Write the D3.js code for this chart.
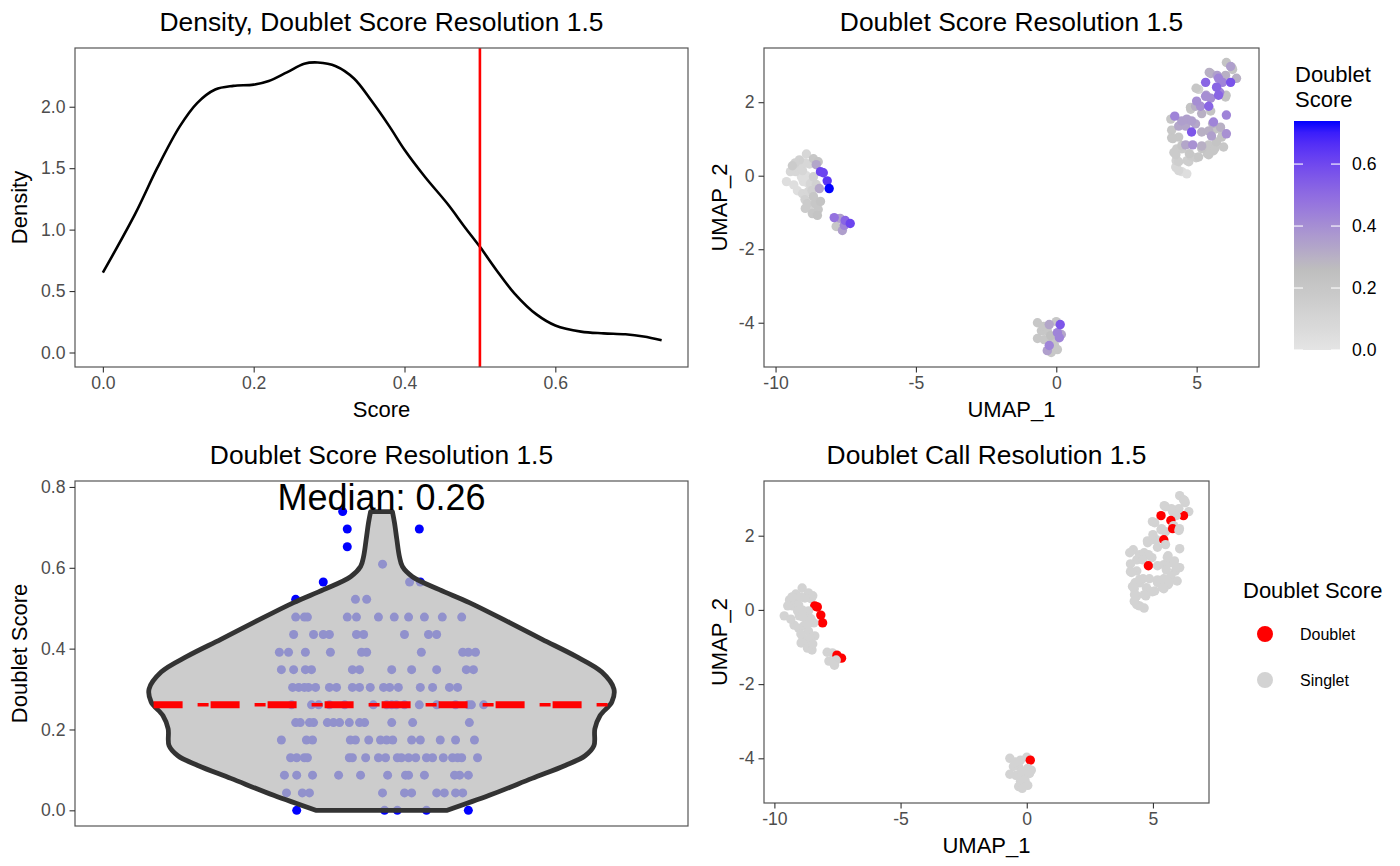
<!DOCTYPE html>
<html>
<head>
<meta charset="utf-8">
<script src="https://cdn.jsdelivr.net/npm/d3@7"></script>
<style>
  html, body { margin: 0; padding: 0; background: #fff; }
  svg { display: block; }
</style>
</head>
<body>
<svg id="chart" width="1400" height="866"></svg>
<script>
// Doublet-score QC panel: density, two UMAPs (score / call) and a violin.

// ---- data -----------------------------------------------------------------
// density curve
const densityScore = [0.000, 0.043, 0.072, 0.102, 0.125, 0.149, 0.173, 0.200, 0.220, 0.244, 0.267, 0.285,
  0.309, 0.333, 0.356, 0.380, 0.400, 0.427, 0.457, 0.480, 0.500, 0.522, 0.546, 0.575, 0.600, 0.634,
  0.664, 0.693, 0.717, 0.741];
const densityValue = [0.65, 1.13, 1.50, 1.84, 2.03, 2.14, 2.17, 2.18, 2.21, 2.28, 2.35, 2.36,
  2.33, 2.23, 2.05, 1.84, 1.65, 1.43, 1.21, 1.02, 0.86, 0.67, 0.48, 0.31, 0.22, 0.17,
  0.156, 0.148, 0.13, 0.10];
const cutoff = 0.5;
const medianScore = 0.261;
const maxScore = 0.739;

// violin: score levels and horizontal jitter of every cell on that level
const scoreLevels = [0.000, 0.043, 0.087, 0.130, 0.174, 0.217, 0.261, 0.304, 0.348, 0.391, 0.435,
  0.478, 0.522, 0.565, 0.609, 0.652, 0.696, 0.739];
const jitterByLevel = [
  [-0.166, 0.006, 0.031, 0.088, 0.170],
  [-0.186, -0.155, -0.141, 0.002, 0.045, 0.059, 0.108, 0.123, 0.145, 0.159],
  [-0.190, -0.166, -0.135, -0.084, -0.041, 0.012, 0.047, 0.053, 0.084, 0.143, 0.153, 0.170],
  [-0.178, -0.166, -0.151, -0.145, -0.063, -0.057, -0.031, -0.006, 0.008, 0.031, 0.039, 0.053, 0.067, 0.088, 0.100, 0.121, 0.139, 0.149, 0.157, 0.188],
  [-0.196, -0.147, -0.135, -0.061, -0.051, -0.025, -0.002, 0.010, 0.022, 0.059, 0.076, 0.115, 0.145, 0.182],
  [-0.168, -0.159, -0.141, -0.133, -0.106, -0.094, -0.082, -0.063, -0.043, -0.033, 0.020, 0.061, 0.172],
  [-0.176, -0.137, -0.123, -0.102, -0.072, -0.016, 0.010, 0.020, 0.029, 0.045, 0.074, 0.108, 0.145, 0.170, 0.176, 0.200],
  [-0.174, -0.162, -0.151, -0.143, -0.129, -0.102, -0.088, -0.057, -0.043, -0.022, 0.004, 0.016, 0.033, 0.076, 0.100, 0.133, 0.149],
  [-0.196, -0.172, -0.149, -0.137, -0.057, -0.043, 0.020, 0.059, 0.108, 0.166, 0.180],
  [-0.200, -0.182, -0.149, -0.100, -0.039, -0.029, 0.078, 0.159, 0.170, 0.184],
  [-0.172, -0.133, -0.114, -0.102, -0.049, -0.035, 0.045, 0.092, 0.108],
  [-0.168, -0.151, -0.145, -0.067, -0.049, -0.006, 0.025, 0.053, 0.084, 0.119, 0.157],
  [-0.168, -0.051, -0.029],
  [-0.114, 0.055, 0.076],
  [0.002],
  [-0.067],
  [-0.067, 0.074],
  [-0.076],
];
// violin outline: relative half-width at each score
const violinScore = [0.000, 0.037, 0.079, 0.111, 0.135, 0.160, 0.202, 0.234, 0.268, 0.300, 0.342,
  0.382, 0.423, 0.465, 0.514, 0.546, 0.578, 0.603, 0.628, 0.670, 0.711, 0.739];
const violinWidth = [0.283, 0.464, 0.648, 0.790, 0.876, 0.914, 0.918, 0.940, 0.991, 1.000, 0.948,
  0.833, 0.691, 0.549, 0.378, 0.249, 0.133, 0.090, 0.077, 0.066, 0.056, 0.047];

// UMAP embedding (left cluster, bottom cluster, right cluster)
const umap1 = [
  -8.90, -9.15, -8.65, -8.48, -9.40, -9.18, -8.55, -8.40, -8.30, -8.16, -8.09, -9.61, -9.29, -9.04,
  -9.01, -8.76, -8.65, -8.44, -9.22, -9.04, -8.83, -8.65, -8.40, -8.87, -8.76, -8.94, -8.69, -8.51,
  -9.47, -8.87, -8.79, -9.08, -8.55, -8.58, -8.48, -7.91, -7.70, -7.52, -7.34, -7.55, -7.62, -7.84,
  -9.30, -8.95, -9.35, -8.95, -8.70, -8.90,
  -0.67, -0.25, 0.00, 0.14, -0.53, -0.32, 0.04, 0.18, -0.67, -0.43, -0.14, 0.11, -0.25, -0.07, -0.32, 0.04, -0.18,
  -0.45, -0.20,
  6.06, 6.21, 6.28, 6.42, 6.21, 6.03, 5.78, 5.92, 5.50, 5.32, 5.07, 5.71, 5.82, 5.32, 5.50, 5.00,
  5.14, 5.78, 6.03, 4.79, 4.96, 5.43, 5.50, 6.06, 4.22, 4.08, 4.47, 4.65, 4.82, 4.96, 5.60, 4.36,
  4.61, 4.11, 4.82, 5.18, 5.43, 5.67, 5.85, 6.06, 4.11, 4.36, 5.53, 5.89, 4.61, 4.86, 5.18, 5.43,
  5.71, 5.96, 4.29, 4.47, 5.43, 5.60, 4.26, 4.79, 5.07, 5.43, 4.36, 4.72, 4.26, 4.36, 4.47, 4.65,
  4.15, 4.47, 5.18, 5.65, 4.19, 4.74, 5.38, 4.27, 4.66, 4.98, 4.27, 5.93, 5.57, 4.78, 5.18, 6.05,
  5.34, 4.98, 5.45, 5.73, 6.25,
];
const umap2 = [
  0.59, 0.43, 0.46, 0.38, 0.27, 0.24, 0.30, 0.11, 0.08, -0.14, -0.35, -0.16, 0.11, 0.14,
  -0.16, -0.22, -0.03, -0.35, -0.41, -0.49, -0.43, -0.57, -0.70, -0.76, -0.81, -0.89, -1.03, -1.08,
  0.11, -0.19, 0.32, -0.03, -0.24, -0.76, -0.92, -1.14, -1.16, -1.22, -1.30, -1.35, -1.49, -1.38,
  0.35, 0.35, -0.25, -0.65, -0.40, 0.00,
  -4.00, -4.05, -3.97, -4.05, -4.22, -4.22, -4.27, -4.32, -4.43, -4.46, -4.49, -4.41, -4.62, -4.59, -4.76, -4.73, -4.81,
  -4.10, -4.35,
  3.08, 2.97, 2.89, 2.65, 2.54, 2.73, 2.65, 2.54, 2.78, 2.54, 2.35, 2.41, 2.27, 2.16, 2.11, 2.03,
  1.89, 2.19, 2.14, 1.81, 1.89, 1.89, 1.76, 1.65, 1.62, 1.54, 1.49, 1.54, 1.49, 1.41, 1.46, 1.35,
  1.35, 1.24, 1.19, 1.19, 1.22, 1.27, 1.32, 1.14, 1.03, 1.05, 1.08, 1.05, 0.84, 0.84, 0.81, 0.84,
  0.92, 0.78, 0.73, 0.73, 0.65, 0.68, 0.57, 0.54, 0.51, 0.57, 0.38, 0.38, 0.24, 0.14, 0.11, 0.05,
  1.01, 0.82, 0.74, 0.74, 0.63, 0.60, 0.60, 0.41, 0.41, 0.49, 0.22, 1.15, 1.42, 1.86, 1.69, 2.19,
  2.19, 2.38, 2.81, 2.73, 2.95,
];
const doubletScore = [
  0.09, 0.13, 0.20, 0.22, 0.17, 0.09, 0.33, 0.61, 0.61, 0.65, 0.74, 0.04, 0.09, 0.09,
  0.04, 0.09, 0.13, 0.33, 0.04, 0.09, 0.09, 0.20, 0.22, 0.17, 0.13, 0.17, 0.20, 0.22,
  0.09, 0.04, 0.09, 0.04, 0.13, 0.20, 0.20, 0.48, 0.35, 0.52, 0.61, 0.43, 0.35, 0.20,
  0.13, 0.09, 0.04, 0.13, 0.13, 0.04,
  0.20, 0.33, 0.20, 0.56, 0.20, 0.20, 0.43, 0.33, 0.20, 0.20, 0.20, 0.43, 0.43, 0.20, 0.35, 0.20, 0.20,
  0.20, 0.25,
  0.22, 0.35, 0.22, 0.30, 0.57, 0.30, 0.43, 0.43, 0.30, 0.52, 0.13, 0.52, 0.43, 0.40, 0.40, 0.40,
  0.39, 0.52, 0.22, 0.20, 0.30, 0.52, 0.22, 0.43, 0.43, 0.20, 0.35, 0.35, 0.35, 0.33, 0.43, 0.33,
  0.33, 0.20, 0.56, 0.30, 0.30, 0.22, 0.30, 0.39, 0.20, 0.20, 0.35, 0.22, 0.33, 0.39, 0.30, 0.20,
  0.22, 0.20, 0.17, 0.17, 0.20, 0.20, 0.17, 0.17, 0.20, 0.20, 0.15, 0.15, 0.09, 0.09, 0.04, 0.04,
  0.20, 0.20, 0.22, 0.20, 0.17, 0.20, 0.20, 0.13, 0.15, 0.17, 0.09, 0.22, 0.30, 0.22, 0.30, 0.22,
  0.35, 0.20, 0.30, 0.35, 0.22,
];

// ticks and labels
const densityXTicks = [0, 0.2, 0.4, 0.6];
const densityYTicks = [0, 0.5, 1, 1.5, 2];
const umapXTicks = [-10, -5, 0, 5];
const umapYTicks = [-4, -2, 0, 2];
const violinYTicks = [0, 0.2, 0.4, 0.6, 0.8];
const colorbarTicks = [0, 0.2, 0.4, 0.6];
const callLabels = ["Doublet", "Singlet"];
const callColors = ["#ff0000", "#d3d3d3"];

// ---- setup ----------------------------------------------------------------
const FONT = "'Liberation Sans', Arial, Helvetica, sans-serif";
const svg = d3.select("#chart").attr("font-family", FONT);

const cells = umap1.map((u, i) => ({ u1: u, u2: umap2[i], s: doubletScore[i] }));
const scoreColor = d3.scaleLinear()
  .domain([0, medianScore, maxScore])
  .range(["#e4e4e4", "#bebebe", "#0000ff"])
  .interpolate(d3.interpolateLab);

function expand([lo, hi], f = 0.05) { const d = (hi - lo) * f; return [lo - d, hi + d]; }

function border(box) {
  svg.append("rect")
    .attr("x", box.x0).attr("y", box.y0)
    .attr("width", box.x1 - box.x0).attr("height", box.y1 - box.y0)
    .attr("fill", "none").attr("stroke", "#555").attr("stroke-width", 1.2);
}

function plotTitle(text, box, baseline) {
  svg.append("text").attr("x", (box.x0 + box.x1) / 2).attr("y", baseline)
    .attr("text-anchor", "middle").attr("font-size", 26.4).attr("fill", "#000").text(text);
}

function styleAxis(ax) {
  ax.attr("font-family", FONT).attr("font-size", 17.6);
  ax.select(".domain").remove();
  ax.selectAll(".tick line").attr("stroke", "#333").attr("stroke-width", 1.1);
  ax.selectAll(".tick text").attr("fill", "#4d4d4d");
}

function xAxis(box, x, ticks, fmt, label) {
  const ax = svg.append("g").attr("transform", `translate(0,${box.y1})`)
    .call(d3.axisBottom(x).tickValues(ticks).tickFormat(fmt).tickSize(5.5).tickPadding(4));
  styleAxis(ax);
  svg.append("text").attr("x", (box.x0 + box.x1) / 2).attr("y", box.y1 + 50)
    .attr("text-anchor", "middle").attr("font-size", 22).text(label);
}

function yAxis(box, y, ticks, fmt, label, titleX) {
  const ax = svg.append("g").attr("transform", `translate(${box.x0},0)`)
    .call(d3.axisLeft(y).tickValues(ticks).tickFormat(fmt).tickSize(5.5).tickPadding(4));
  styleAxis(ax);
  const cy = (box.y0 + box.y1) / 2;
  svg.append("text").attr("transform", `translate(${titleX},${cy}) rotate(-90)`)
    .attr("text-anchor", "middle").attr("font-size", 22).text(label);
}

const fmt1 = d3.format(".1f");
const fmtInt = (d) => String(d); // plain hyphen minus like R

// ---- top-left: density ----------------------------------------------------
{
  const box = { x0: 75, x1: 688, y0: 48, y1: 367 };
  const x = d3.scaleLinear().domain(expand([0, maxScore])).range([box.x0, box.x1]);
  const y = d3.scaleLinear().domain(expand([0, d3.max(densityValue)])).range([box.y1, box.y0]);

  const line = d3.line().x((d, i) => x(densityScore[i])).y((d) => y(d)).curve(d3.curveCatmullRom);
  svg.append("path").attr("d", line(densityValue))
    .attr("fill", "none").attr("stroke", "#000").attr("stroke-width", 2.6);

  svg.append("line").attr("x1", x(cutoff)).attr("x2", x(cutoff)).attr("y1", box.y0).attr("y2", box.y1)
    .attr("stroke", "#ff0000").attr("stroke-width", 2.6);

  border(box);
  xAxis(box, x, densityXTicks, fmt1, "Score");
  yAxis(box, y, densityYTicks, fmt1, "Density", 27);
  plotTitle("Density, Doublet Score Resolution 1.5", box, 31);
}

// shared UMAP extents
const u1Dom = expand(d3.extent(umap1));
const u2Dom = expand(d3.extent(umap2));
const PT_R = 4.7;

// ---- top-right: UMAP coloured by score -------------------------------------
{
  const box = { x0: 764, x1: 1259, y0: 48, y1: 367 };
  const x = d3.scaleLinear().domain(u1Dom).range([box.x0, box.x1]);
  const y = d3.scaleLinear().domain(u2Dom).range([box.y1, box.y0]);

  svg.append("g").selectAll("circle")
    .data(cells.slice().sort((a, b) => a.s - b.s))
    .join("circle")
    .attr("cx", (d) => x(d.u1)).attr("cy", (d) => y(d.u2)).attr("r", PT_R)
    .attr("fill", (d) => scoreColor(d.s));

  border(box);
  xAxis(box, x, umapXTicks, fmtInt, "UMAP_1");
  yAxis(box, y, umapYTicks, fmtInt, "UMAP_2", 727);
  plotTitle("Doublet Score Resolution 1.5", box, 31);

  // colour bar legend
  const bar = { x0: 1294, x1: 1340, y0: 121, y1: 350 };
  const cb = d3.scaleLinear().domain([0, maxScore]).range([bar.y1, bar.y0]);
  const grad = svg.append("defs").append("linearGradient").attr("id", "cbar")
    .attr("x1", 0).attr("y1", 1).attr("x2", 0).attr("y2", 0);
  d3.range(0, 1.0001, 0.05).forEach((t) => {
    grad.append("stop").attr("offset", t).attr("stop-color", scoreColor(t * maxScore));
  });
  svg.append("rect").attr("x", bar.x0).attr("y", bar.y0)
    .attr("width", bar.x1 - bar.x0).attr("height", bar.y1 - bar.y0).attr("fill", "url(#cbar)");
  const tk = svg.append("g");
  colorbarTicks.forEach((v) => {
    const ty = cb(v);
    tk.append("line").attr("x1", bar.x0).attr("x2", bar.x0 + 9).attr("y1", ty).attr("y2", ty)
      .attr("stroke", "#fff").attr("stroke-width", 1.1);
    tk.append("line").attr("x1", bar.x1 - 9).attr("x2", bar.x1).attr("y1", ty).attr("y2", ty)
      .attr("stroke", "#fff").attr("stroke-width", 1.1);
    tk.append("text").attr("x", 1352).attr("y", ty).attr("dy", "0.35em")
      .attr("font-size", 17.6).attr("fill", "#000").text(fmt1(v));
  });
  svg.append("text").attr("x", 1295).attr("y", 82).attr("font-size", 22).text("Doublet");
  svg.append("text").attr("x", 1295).attr("y", 107).attr("font-size", 22).text("Score");
}

// ---- bottom-left: violin ---------------------------------------------------
{
  const box = { x0: 75, x1: 688, y0: 481, y1: 826 };
  const labelY = maxScore * 1.05; // where the median annotation sits
  const x = d3.scaleLinear().domain([0.4, 1.6]).range([box.x0, box.x1]);
  const y = d3.scaleLinear().domain(expand([0, labelY])).range([box.y1, box.y0]);
  const halfW = 0.455;

  const pts = [];
  scoreLevels.forEach((s, k) => jitterByLevel[k].forEach((j) => pts.push({ s, j })));
  svg.append("g").selectAll("circle").data(pts).join("circle")
    .attr("cx", (d) => x(1 + d.j)).attr("cy", (d) => y(d.s)).attr("r", 4.5)
    .attr("fill", "#0000ff");

  const outline = violinScore.map((s, i) => ({ s, w: violinWidth[i] }));
  const area = d3.area()
    .y((d) => y(d.s))
    .x0((d) => x(1 - halfW * d.w))
    .x1((d) => x(1 + halfW * d.w))
    .curve(d3.curveCatmullRom);
  svg.append("path").attr("d", area(outline))
    .attr("fill", "#bcbcbc").attr("fill-opacity", 0.77)
    .attr("stroke", "#333").attr("stroke-width", 4.8).attr("stroke-linejoin", "round");

  // median line spans the violin at that height
  const wMed = d3.scaleLinear().domain(violinScore).range(violinWidth)(medianScore);
  const mx0 = x(1 - halfW * wMed), mx1 = x(1 + halfW * wMed), my = y(medianScore);
  svg.append("line").attr("x1", mx0).attr("x2", mx1).attr("y1", my).attr("y2", my)
    .attr("stroke", "#ff0000").attr("stroke-width", 3.4)
    .attr("stroke-dasharray", "11 17.5").attr("stroke-dashoffset", 13);
  svg.append("line").attr("x1", mx0).attr("x2", mx1).attr("y1", my).attr("y2", my)
    .attr("stroke", "#ff0000").attr("stroke-width", 7)
    .attr("stroke-dasharray", "29 28");

  svg.append("text").attr("x", x(1)).attr("y", y(labelY)).attr("dy", "0.36em")
    .attr("text-anchor", "middle").attr("font-size", 36).attr("fill", "#000")
    .text(`Median: ${medianScore.toFixed(2)}`);

  border(box);
  yAxis(box, y, violinYTicks, fmt1, "Doublet Score", 27);
  plotTitle("Doublet Score Resolution 1.5", box, 464);
}

// ---- bottom-right: UMAP coloured by call -----------------------------------
{
  const box = { x0: 764, x1: 1209, y0: 481, y1: 803 };
  const x = d3.scaleLinear().domain(u1Dom).range([box.x0, box.x1]);
  const y = d3.scaleLinear().domain(u2Dom).range([box.y1, box.y0]);
  const call = (d) => (d.s > cutoff ? 0 : 1);

  svg.append("g").selectAll("circle").data(cells).join("circle")
    .attr("cx", (d) => x(d.u1)).attr("cy", (d) => y(d.u2)).attr("r", PT_R)
    .attr("fill", (d) => callColors[call(d)]);

  border(box);
  xAxis(box, x, umapXTicks, fmtInt, "UMAP_1");
  yAxis(box, y, umapYTicks, fmtInt, "UMAP_2", 727);
  plotTitle("Doublet Call Resolution 1.5", box, 464);

  // discrete legend
  svg.append("text").attr("x", 1243).attr("y", 598).attr("font-size", 22).text("Doublet Score");
  const keys = svg.append("g").selectAll("g").data(callLabels).join("g")
    .attr("transform", (d, i) => `translate(1265,${634 + i * 46})`);
  keys.append("circle").attr("r", 8).attr("fill", (d, i) => callColors[i]);
  keys.append("text").attr("x", 35).attr("dy", "0.35em").attr("font-size", 16).text((d) => d);
}
</script>
</body>
</html>
